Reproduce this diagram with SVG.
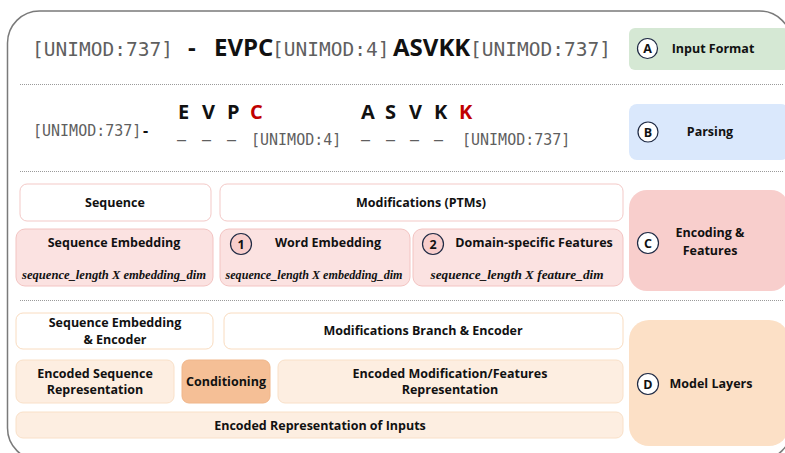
<svg xmlns="http://www.w3.org/2000/svg" width="785" height="453" viewBox="0 0 785 453">
  <style>
    .mono { font-family: "DejaVu Sans Mono", "Liberation Mono", monospace; fill: #5f5f5f; }
    .aa { font-family: "Open Sans", "Noto Sans", sans-serif; font-weight: 700; fill: #111; }
    .lbl { font-family: "Open Sans", "Noto Sans", sans-serif; font-weight: 700; font-size: 12.5px; fill: #111; text-anchor: middle; }
    .dim { font-family: "Liberation Serif", "DejaVu Serif", serif; font-weight: 700; font-style: italic; font-size: 12px; fill: #111; text-anchor: middle; }
    .sep { stroke: #9a9a9a; stroke-width: 1; stroke-dasharray: 1 1; fill: none; }
    .badge { fill: #ffffff; stroke: #1f2a44; stroke-width: 1.2; }
    .badge-p { fill: #f8cecc; stroke: #1f2a44; stroke-width: 1.2; }
    .blet { font-family: "Open Sans", "Noto Sans", sans-serif; font-weight: 700; font-size: 12.5px; fill: #111; text-anchor: middle; }
    .c-head { fill: #ffffff; stroke: #f3c9c7; stroke-width: 1; }
    .c-body { fill: #fbe2e1; stroke: #f3c4c2; stroke-width: 1; }
    .d-head { fill: #ffffff; stroke: #f9dcc0; stroke-width: 1; }
    .d-body { fill: #fdeee1; stroke: #f9e0c8; stroke-width: 1; }
    .red { fill: #c00000; }
  </style>

  <!-- outer frame -->
  <rect x="7.5" y="11" width="784" height="449" rx="32" ry="32" fill="#ffffff" stroke="#7a7a7a" stroke-width="1.5"/>

  <!-- section separators -->
  <g id="separators">
    <line class="sep" x1="20" y1="84.5" x2="783" y2="84.5"/>
    <line class="sep" x1="20" y1="171.5" x2="783" y2="171.5"/>
    <line class="sep" x1="20" y1="300.5" x2="783" y2="300.5"/>
  </g>

  <!-- A: input string -->
  <g id="input-string">
    <text class="mono" x="32" y="56" font-size="19.5">[UNIMOD:737]</text>
    <text class="aa" x="188" y="56" font-size="24">-</text>
    <text class="aa" x="214" y="56" font-size="24">EVPC</text>
    <text class="mono" x="272" y="56" font-size="19.5">[UNIMOD:4]</text>
    <text class="aa" x="393" y="56" font-size="24">ASVKK</text>
    <text class="mono" x="470" y="56" font-size="19.5">[UNIMOD:737]</text>
  </g>

  <!-- B: parsed tokens -->
  <g id="parsed-tokens">
    <text class="mono" x="33" y="136" font-size="15">[UNIMOD:737]</text>
    <text class="aa" x="143" y="136" font-size="16">-</text>
    <g class="aa" font-size="20">
      <text x="178" y="119">E</text>
      <text x="202" y="119">V</text>
      <text x="227" y="119">P</text>
      <text class="red" x="250" y="119">C</text>
      <text x="361" y="119">A</text>
      <text x="385" y="119">S</text>
      <text x="409" y="119">V</text>
      <text x="434" y="119">K</text>
      <text class="red" x="459" y="119">K</text>
    </g>
    <g class="mono" font-size="15">
      <text x="177" y="145">–</text>
      <text x="202" y="145">–</text>
      <text x="227" y="145">–</text>
      <text x="251" y="145">[UNIMOD:4]</text>
      <text x="361" y="145">–</text>
      <text x="386" y="145">–</text>
      <text x="410" y="145">–</text>
      <text x="434" y="145">–</text>
      <text x="462" y="145">[UNIMOD:737]</text>
    </g>
  </g>

  <!-- stage labels -->
  <g id="stage-a">
    <rect x="629" y="28" width="160" height="42" rx="6" fill="#d5e8d4"/>
    <circle class="badge" cx="647.5" cy="48.5" r="10"/>
    <text class="blet" x="647.5" y="53">A</text>
    <text class="lbl" x="713" y="53">Input Format</text>
  </g>
  <g id="stage-b">
    <rect x="629" y="104" width="160" height="56" rx="8" fill="#dae8fc"/>
    <circle class="badge" cx="648" cy="132" r="10"/>
    <text class="blet" x="648" y="136.5">B</text>
    <text class="lbl" x="710" y="136">Parsing</text>
  </g>
  <g id="stage-c">
    <rect x="629" y="190" width="160" height="101" rx="18" fill="#f8cecc"/>
    <circle class="badge" cx="648" cy="243" r="10.5"/>
    <text class="blet" x="648" y="247.5">C</text>
    <text class="lbl" x="710" y="237">Encoding &amp;</text>
    <text class="lbl" x="710" y="255">Features</text>
  </g>
  <g id="stage-d">
    <rect x="629" y="320" width="160" height="126" rx="20" fill="#fce0c6"/>
    <circle class="badge" cx="648" cy="384" r="10.5"/>
    <text class="blet" x="648" y="388.5">D</text>
    <text class="lbl" x="711" y="388">Model Layers</text>
  </g>

  <!-- C: encoding blocks -->
  <g id="sequence">
    <rect class="c-head" x="20" y="184" width="191" height="37" rx="7"/>
    <text class="lbl" x="115" y="207">Sequence</text>
  </g>
  <g id="modifications">
    <rect class="c-head" x="220" y="184" width="403" height="37" rx="7"/>
    <text class="lbl" x="421" y="207">Modifications (PTMs)</text>
  </g>
  <g id="sequence-embedding">
    <rect class="c-body" x="16" y="229" width="197" height="57" rx="9"/>
    <text class="lbl" x="114" y="247">Sequence Embedding</text>
    <text class="dim" x="114" y="279" textLength="184" lengthAdjust="spacingAndGlyphs">sequence_length X embedding_dim</text>
  </g>
  <g id="word-embedding">
    <rect class="c-body" x="220" y="229" width="190" height="57" rx="9"/>
    <circle class="badge-p" cx="241" cy="244" r="10.5"/>
    <text class="blet" x="241" y="248.5">1</text>
    <text class="lbl" x="328" y="247">Word Embedding</text>
    <text class="dim" x="314" y="279" textLength="177" lengthAdjust="spacingAndGlyphs">sequence_length X embedding_dim</text>
  </g>
  <g id="domain-features">
    <rect class="c-body" x="413" y="229" width="210" height="57" rx="9"/>
    <circle class="badge-p" cx="433" cy="244" r="10.5"/>
    <text class="lbl" x="534" y="247">Domain-specific Features</text>
    <text class="blet" x="433" y="248.5">2</text>
    <text class="dim" x="517" y="279" textLength="173" lengthAdjust="spacingAndGlyphs">sequence_length X feature_dim</text>
  </g>

  <!-- D: model blocks -->
  <g id="sequence-encoder">
    <rect class="d-head" x="16" y="313" width="197" height="36" rx="7"/>
    <text class="lbl" x="115" y="327">Sequence Embedding</text>
    <text class="lbl" x="115" y="344">&amp; Encoder</text>
  </g>
  <g id="modifications-encoder">
    <rect class="d-head" x="224" y="313" width="399" height="36" rx="7"/>
    <text class="lbl" x="423" y="335">Modifications Branch &amp; Encoder</text>
  </g>
  <g id="encoded-sequence">
    <rect class="d-body" x="16" y="360" width="158" height="43" rx="7"/>
    <text class="lbl" x="95" y="378" font-size="12">Encoded Sequence</text>
    <text class="lbl" x="95" y="394" font-size="12">Representation</text>
  </g>
  <g id="conditioning">
    <rect x="182" y="360" width="88" height="43" rx="7" fill="#f5bf96" stroke="#f0b68a"/>
    <text class="lbl" x="226" y="386" font-size="12">Conditioning</text>
  </g>
  <g id="encoded-modifications">
    <rect class="d-body" x="278" y="360" width="345" height="43" rx="7"/>
    <text class="lbl" x="450" y="378" font-size="12">Encoded Modification/Features</text>
    <text class="lbl" x="450" y="394" font-size="12">Representation</text>
  </g>
  <g id="encoded-inputs">
    <rect class="d-body" x="16" y="412" width="607" height="26" rx="7"/>
    <text class="lbl" x="320" y="430">Encoded Representation of Inputs</text>
  </g>

  <!-- no connectors are drawn between blocks -->
  <g id="connectors"/>
</svg>
